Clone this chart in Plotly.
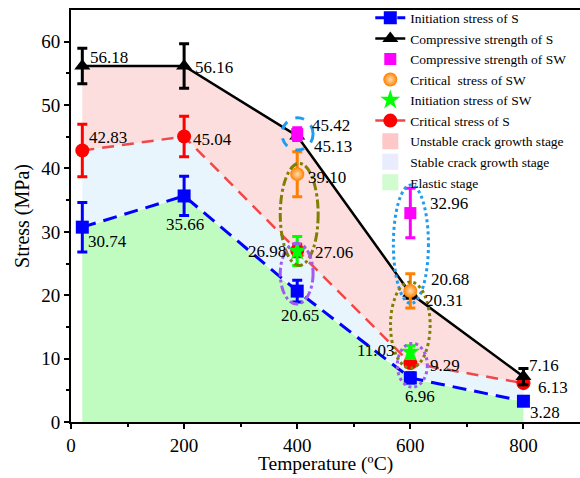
import plotly.graph_objects as go

# ---------------- data ----------------
temps_s = [20, 200, 400, 600, 800]
init_s = [30.74, 35.66, 20.65, 6.96, 3.28]
init_s_err = [3.9, 3.1, 1.7, 0.8, 0.3]
comp_s = [56.18, 56.16, 45.13, 20.31, 7.16]
comp_s_err = [2.8, 3.5, 0.5, 0.8, 1.3]
crit_s = [42.83, 45.04, 27.06, 9.29, 6.13]
crit_s_err = [4.15, 3.2, 1.0, 0.5, 0.5]

temps_sw = [400, 600]
comp_sw = [45.42, 32.96]
comp_sw_err = [1.0, 3.9]
crit_sw = [39.10, 20.68]
crit_sw_err = [3.55, 2.7]
init_sw = [26.98, 11.03]
init_sw_err = [2.3, 1.0]

x_ticks = [0, 200, 400, 600, 800]
y_ticks = [0, 10, 20, 30, 40, 50, 60]

# ellipses highlighting groups: (x0, x1, y0, y1, color, dash)
ellipses = [
    (373, 428, 42.9, 48.0, "#1e9cf0", "dash"),
    (370, 437, 24.7, 40.8, "#808000", "dashdot"),
    (370, 428, 18.6, 28.2, "#a05cf0", "dashdot"),
    (570, 632, 18.7, 37.4, "#1e9cf0", "dot"),
    (565, 635, 8.5, 22.1, "#808000", "dot"),
    (577, 630, 5.5, 12.4, "#a05cf0", "dot"),
]

FONT = "Liberation Serif"
fig = go.Figure()

# ---------------- filled stages ----------------
fig.add_trace(go.Scatter(x=temps_s, y=init_s, mode="lines", fill="tozeroy",
                         fillcolor="#c0fcc0", line=dict(color="white", width=1),
                         showlegend=False, hoverinfo="skip"))
fig.add_trace(go.Scatter(x=temps_s, y=crit_s, mode="none", fill="tonexty",
                         fillcolor="#e8f5fc", showlegend=False, hoverinfo="skip"))
fig.add_trace(go.Scatter(x=temps_s, y=comp_s, mode="none", fill="tonexty",
                         fillcolor="#fcdede", showlegend=False, hoverinfo="skip"))

# ---------------- series ----------------
def eb(arr, color):
    return dict(type="data", array=arr, visible=True, color=color, thickness=3, width=5)

fig.add_trace(go.Scatter(
    x=temps_s, y=init_s, name="Initiation stress of S", mode="lines+markers",
    line=dict(color="#0000ff", width=3, dash="14px,8px"),
    marker=dict(symbol="square", size=13, color="#0000ff"),
    error_y=eb(init_s_err, "#0000ff"), legendrank=1001))
fig.add_trace(go.Scatter(
    x=temps_s, y=crit_s, name="Critical stress of S", mode="lines+markers",
    line=dict(color="#f04848", width=2.5, dash="12px,8px"),
    marker=dict(symbol="circle", size=14, color="#ff0000"),
    error_y=eb(crit_s_err, "#ff0000"), legendrank=1006))
fig.add_trace(go.Scatter(
    x=temps_s, y=comp_s, name="Compressive strength of S", mode="lines+markers",
    line=dict(color="#000000", width=2.5),
    marker=dict(symbol="triangle-up", size=14, color="#000000"),
    error_y=eb(comp_s_err, "#000000"), legendrank=1002))
fig.add_trace(go.Scatter(
    x=temps_sw, y=crit_sw, name="Critical  stress of SW", mode="markers",
    marker=dict(symbol="circle", size=14, color="#ff7f00",
                gradient=dict(type="radial", color="#ffe0b0")),
    error_y=eb(crit_sw_err, "#ff7f00"), legendrank=1004))
fig.add_trace(go.Scatter(
    x=temps_sw, y=init_sw, name="Initiation stress of SW", mode="markers",
    marker=dict(symbol="star", size=15, color="#00ff00"),
    error_y=eb(init_sw_err, "#00ff00"), legendrank=1005))
fig.add_trace(go.Scatter(
    x=temps_sw, y=comp_sw, name="Compressive strength of SW", mode="markers",
    marker=dict(symbol="square", size=12, color="#ff00ff"),
    error_y=eb(comp_sw_err, "#ff00ff"), legendrank=1003))

# legend swatches for stages
for nm, col, rk in [("Unstable crack growth stage", "#ffc8c8", 1007),
                    ("Stable crack growth stage", "#e8ecfc", 1008),
                    ("Elastic stage", "#d0fcd0", 1009)]:
    fig.add_trace(go.Scatter(x=[None], y=[None], mode="markers",
                             marker=dict(symbol="square", size=16, color=col),
                             name=nm, legendrank=rk))

# ---------------- ellipses ----------------
shapes = []
for x0, x1, y0, y1, col, dash in ellipses:
    shapes.append(dict(type="circle", xref="x", yref="y", x0=x0, x1=x1, y0=y0, y1=y1,
                       line=dict(color=col, width=3, dash=dash), layer="above"))

# ---------------- value labels ----------------
labels = [
    (temps_s[0], comp_s[0], "left", 6, 8),
    (temps_s[1], comp_s[1], "left", 9, -1),
    (temps_s[0], crit_s[0], "left", 5, 13),
    (temps_s[1], crit_s[1], "left", 7, -3),
    (temps_s[0], init_s[0], "left", 4, -14),
    (temps_s[1], init_s[1], "center", 1, -29),
    (temps_sw[0], comp_sw[0], "left", 13, 9),
    (temps_s[2], comp_s[2], "left", 15, -11),
    (temps_sw[0], crit_sw[0], "left", 9, -3),
    (temps_sw[0], init_sw[0], "right", -9, -1),
    (temps_s[2], crit_s[2], "left", 16, -2),
    (temps_s[2], init_s[2], "center", 3, -24),
    (temps_sw[1], comp_sw[1], "left", 18, 10),
    (temps_sw[1], crit_sw[1], "left", 19, 11),
    (temps_s[3], comp_s[3], "left", 13, -7),
    (temps_sw[1], init_sw[1], "right", -13, 2),
    (temps_s[3], crit_s[3], "left", 18, -2),
    (temps_s[3], init_s[3], "center", 10, -19),
    (temps_s[4], comp_s[4], "left", 4, 11),
    (temps_s[4], crit_s[4], "left", 13, -4),
    (temps_s[4], init_s[4], "left", 5, -11),
]
annotations = []
for x, y, xa, xs, ys in labels:
    annotations.append(dict(x=x, y=y, xref="x", yref="y", text=f"{y:.2f}",
                            showarrow=False, xanchor=xa, yanchor="middle",
                            xshift=xs, yshift=ys,
                            font=dict(family=FONT, size=17, color="#000000")))
# x-axis title
annotations.append(dict(x=0.5, y=-0.1335, xref="paper", yref="paper",
                        text="Temperature (ºC)", showarrow=False,
                        xanchor="center", yanchor="bottom",
                        font=dict(family=FONT, size=19.5, color="#000000")))

fig.update_layout(
    width=580, height=478,
    margin=dict(l=71, r=0, t=10, b=56, autoexpand=False),
    paper_bgcolor="white", plot_bgcolor="white",
    shapes=shapes, annotations=annotations,
    font=dict(family=FONT, color="#000000"),
    legend=dict(x=0.588, y=1.018, xanchor="left", yanchor="top",
                bgcolor="rgba(0,0,0,0)", font=dict(family=FONT, size=13.5),
                traceorder="normal", itemwidth=30, tracegroupgap=0),
    xaxis=dict(range=[0, 900], tickvals=x_ticks, showgrid=False, zeroline=False,
               showline=True, linecolor="black", linewidth=2, mirror=True,
               ticks="outside", ticklen=5, tickwidth=2, tickcolor="black",
               minor=dict(tickvals=[100, 300, 500, 700], ticks="outside", ticklen=3,
                          tickwidth=2, tickcolor="black"),
               tickfont=dict(family=FONT, size=19), automargin=False),
    yaxis=dict(range=[0, 65], tickvals=y_ticks, showgrid=False, zeroline=False,
               showline=True, linecolor="black", linewidth=2,
               ticks="outside", ticklen=5, tickwidth=2, tickcolor="black",
               minor=dict(tickvals=[5, 15, 25, 35, 45, 55], ticks="outside", ticklen=3,
                          tickwidth=2, tickcolor="black"),
               tickfont=dict(family=FONT, size=19), automargin=False,
               title=dict(text="Stress (MPa)", font=dict(family=FONT, size=20), standoff=6)),
)

fig.write_html("out.html", config={"displayModeBar": False},
               post_script="document.body.style.margin='0';document.body.style.padding='0';")
